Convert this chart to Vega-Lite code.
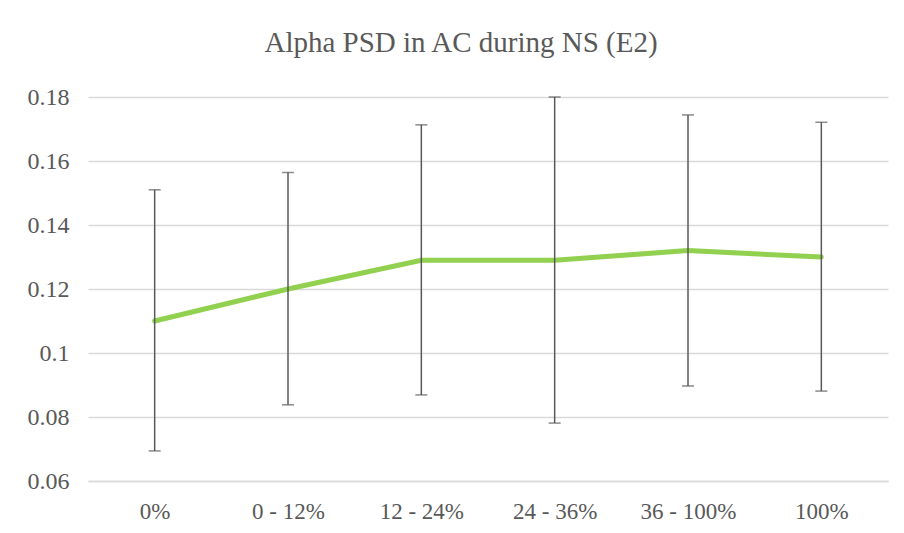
{
  "$schema": "https://vega.github.io/schema/vega-lite/v6.json",
  "autosize": "none",
  "width": 800,
  "height": 384,
  "padding": {"left": 88, "top": 97, "right": 16, "bottom": 52},
  "background": "white",
  "config": {"view": {"stroke": null}},
  "title": {
    "text": "Alpha PSD in AC during NS (E2)",
    "font": "Liberation Serif",
    "fontSize": 29,
    "fontWeight": "normal",
    "color": "#595959",
    "anchor": "middle",
    "dx": -27,
    "offset": 27
  },
  "data": {
    "values": [
      {"cat": "0%", "mean": 0.110, "lo": 0.0694, "hi": 0.1510},
      {"cat": "0 - 12%", "mean": 0.120, "lo": 0.0838, "hi": 0.1564},
      {"cat": "12 - 24%", "mean": 0.129, "lo": 0.0869, "hi": 0.1713},
      {"cat": "24 - 36%", "mean": 0.129, "lo": 0.0781, "hi": 0.1800},
      {"cat": "36 - 100%", "mean": 0.132, "lo": 0.0897, "hi": 0.1744},
      {"cat": "100%", "mean": 0.130, "lo": 0.0881, "hi": 0.1721}
    ]
  },
  "encoding": {
    "x": {
      "field": "cat",
      "type": "ordinal",
      "sort": null,
      "scale": {"type": "point", "padding": 0.5},
      "axis": {
        "title": null,
        "labelAngle": 0,
        "labelFont": "Liberation Serif",
        "labelFontSize": 23,
        "labelColor": "#595959",
        "labelPadding": 19,
        "ticks": false,
        "domainColor": "#d9d9d9",
        "domainWidth": 1.5,
        "grid": false
      }
    }
  },
  "layer": [
    {
      "mark": {"type": "line", "color": "#92d050", "strokeWidth": 5, "strokeCap": "round"},
      "encoding": {
        "y": {
          "field": "mean",
          "type": "quantitative",
          "scale": {"domain": [0.06, 0.18], "nice": false, "zero": false},
          "axis": {
            "title": null,
            "values": [0.06, 0.08, 0.1, 0.12, 0.14, 0.16, 0.18],
            "format": "~g",
            "labelFont": "Liberation Serif",
            "labelFontSize": 24,
            "labelColor": "#595959",
            "labelPadding": 19,
            "ticks": false,
            "domain": false,
            "gridColor": "#d9d9d9",
            "gridWidth": 1.5
          }
        }
      }
    },
    {
      "mark": {
        "type": "errorbar",
        "color": "#595959",
        "thickness": 1.5,
        "ticks": {"size": 12, "thickness": 1.5, "color": "#595959"}
      },
      "encoding": {
        "y": {"field": "lo", "type": "quantitative"},
        "y2": {"field": "hi"}
      }
    }
  ]
}
